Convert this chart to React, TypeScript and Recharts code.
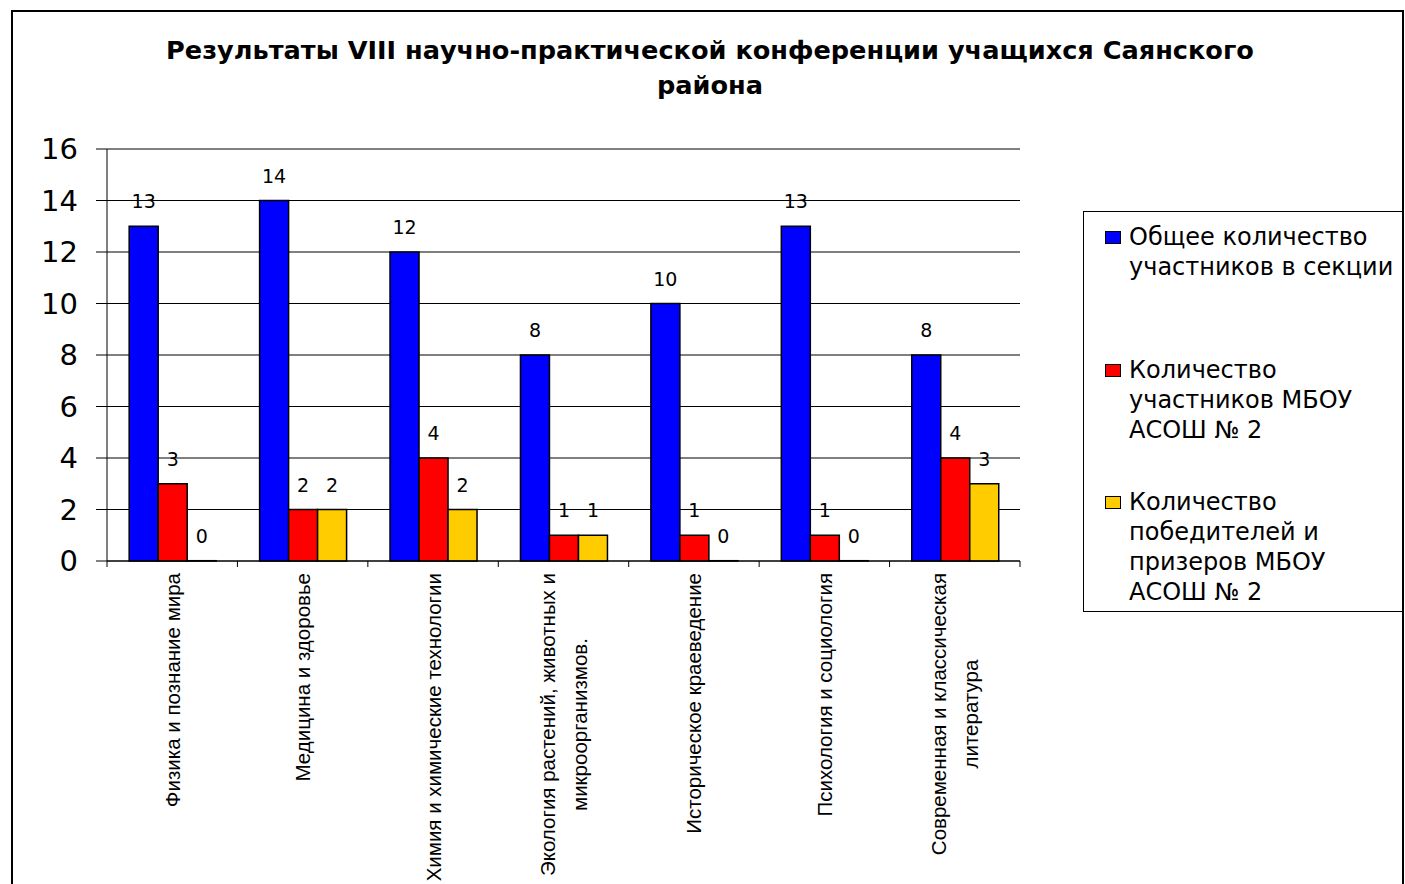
import { BarChart, Bar, XAxis, YAxis, CartesianGrid, LabelList, Legend } from "recharts"

// Секции конференции (перенос строки как в подписи оси)
const categories = [
  "Физика и познание мира",
  "Медицина и здоровье",
  "Химия и химические технологии",
  "Экология растений, животных и\nмикроорганизмов.",
  "Историческое краеведение",
  "Психология и социология",
  "Современная и классическая\nлитература",
]
const totalParticipants = [13, 14, 12, 8, 10, 13, 8]
const schoolParticipants = [3, 2, 4, 1, 1, 1, 4]
const schoolWinners = [0, 2, 2, 1, 0, 0, 3]
const yTicks = [0, 2, 4, 6, 8, 10, 12, 14, 16]
const seriesNames = [
  "Общее количество\nучастников в секции",
  "Количество\nучастников МБОУ\nАСОШ № 2",
  "Количество\nпобедителей и\nпризеров МБОУ\nАСОШ № 2",
]
const title = "Результаты VIII научно-практической конференции учащихся Саянского\nрайона"

const data = categories.map((name, i) => ({
  name,
  total: totalParticipants[i],
  school: schoolParticipants[i],
  winners: schoolWinners[i],
}))

const wideFont = "DejaVu Sans, sans-serif"
const catFontSize = 20.5
const catFont = `${catFontSize}px 'Liberation Sans'`

const ctx = typeof document !== "undefined" ? document.createElement("canvas").getContext("2d") : null
function textWidth(s: string) {
  if (!ctx) return s.length * 9
  ctx.font = catFont
  return ctx.measureText(s).width
}

// нулевые столбцы иначе не получают подписи
const zeroPoint = (v: any) => (v === 0 ? 0.3 : 0)

function CategoryTick(props: any) {
  const { x, y, payload, index } = props
  const lines = String(payload.value).split("\n")
  const half = payload.offset || 65
  const widest = Math.max(...lines.map(textWidth))
  const mid = y + 12 + widest / 2
  return (
    <g>
      <line x1={x - half} x2={x - half} y1={y} y2={y + 6} stroke="#000" />
      {index === categories.length - 1 && (
        <line x1={x + half} x2={x + half} y1={y} y2={y + 6} stroke="#000" />
      )}
      {lines.map((l, i) => (
        <text
          key={i}
          transform={`translate(${x + (i - (lines.length - 1) / 2) * 32}, ${mid}) rotate(-90)`}
          textAnchor="middle"
          dominantBaseline="central"
          fontSize={catFontSize}
          fontFamily="Liberation Sans, Arial, sans-serif"
          fill="#000"
        >
          {l}
        </text>
      ))}
    </g>
  )
}

// подпись значения над столбцом
function ValueLabel(props: any) {
  const { x, y, width, height, value } = props
  const top = Math.min(Number(y), Number(y) + Number(height))
  return (
    <text
      x={Number(x) + Number(width) / 2}
      y={top - 25}
      textAnchor="middle"
      dominantBaseline="central"
      fontSize={19}
      fontFamily={wideFont}
      fill="#000"
    >
      {String(value)}
    </text>
  )
}

function LegendBox({ payload }: any) {
  const items = [...(payload || [])].sort(
    (a: any, b: any) => seriesNames.indexOf(a.value) - seriesNames.indexOf(b.value)
  )
  return (
    <div
      style={{
        width: 320,
        height: 401,
        boxSizing: "border-box",
        border: "1.5px solid #000",
        background: "#fff",
        padding: "10px 0 0 21px",
        fontFamily: wideFont,
        fontSize: 24,
        color: "#000",
        textAlign: "left",
      }}
    >
      {items.map((p: any, i: number) => (
        <div key={i} style={{ height: 132.5, display: "flex", alignItems: "flex-start" }}>
          <span
            style={{
              width: 14,
              height: 11,
              background: p.color,
              border: "1px solid #000",
              marginTop: 9,
              marginRight: 8,
              flex: "none",
            }}
          />
          <span style={{ whiteSpace: "pre-line", lineHeight: "30px" }}>{p.value}</span>
        </div>
      ))}
    </div>
  )
}

export default function App() {
  return (
    <div style={{ position: "absolute", left: 0, top: 0, width: 1405, height: 884, overflow: "hidden", background: "#fff" }}>
      <div
        style={{
          position: "absolute",
          left: 11,
          top: 10,
          width: 1393,
          height: 900,
          boxSizing: "border-box",
          border: "2px solid #000",
        }}
      />
      <div
        style={{
          position: "absolute",
          left: 10,
          top: 33,
          width: 1400,
          textAlign: "center",
          fontFamily: wideFont,
          fontWeight: "bold",
          fontSize: 25.6,
          lineHeight: "35px",
          whiteSpace: "pre-line",
          color: "#000",
        }}
      >
        {title}
      </div>
      <div style={{ position: "absolute", left: 0, top: 0 }}>
        <BarChart
          width={1405}
          height={884}
          data={data}
          margin={{ top: 149, right: 385, bottom: 0, left: 27 }}
          barCategoryGap="17%"
          barGap={0}
        >
          <CartesianGrid vertical={false} stroke="#000" strokeWidth={1} />
          <XAxis
            dataKey="name"
            height={323}
            interval={0}
            tickLine={false}
            tickSize={0}
            tickMargin={0}
            axisLine={{ stroke: "#000" }}
            tick={<CategoryTick />}
          />
          <YAxis
            width={80}
            domain={[0, 16]}
            ticks={yTicks}
            tickSize={11}
            tickMargin={18}
            axisLine={{ stroke: "#000" }}
            tickLine={{ stroke: "#000" }}
            tick={{ fontSize: 29, fill: "#000", fontFamily: wideFont }}
          />
          <Legend
            layout="vertical"
            align="center"
            verticalAlign="middle"
            wrapperStyle={{ left: 1083, top: 211, width: 320 }}
            content={<LegendBox />}
          />
          <Bar dataKey="total" name={seriesNames[0]} fill="#0000FF" stroke="#000" strokeWidth={1.5} minPointSize={zeroPoint} isAnimationActive={false}>
            <LabelList dataKey="total" content={<ValueLabel />} />
          </Bar>
          <Bar dataKey="school" name={seriesNames[1]} fill="#FF0000" stroke="#000" strokeWidth={1.5} minPointSize={zeroPoint} isAnimationActive={false}>
            <LabelList dataKey="school" content={<ValueLabel />} />
          </Bar>
          <Bar dataKey="winners" name={seriesNames[2]} fill="#FFCC00" stroke="#000" strokeWidth={1.5} minPointSize={zeroPoint} isAnimationActive={false}>
            <LabelList dataKey="winners" content={<ValueLabel />} />
          </Bar>
        </BarChart>
      </div>
    </div>
  )
}
